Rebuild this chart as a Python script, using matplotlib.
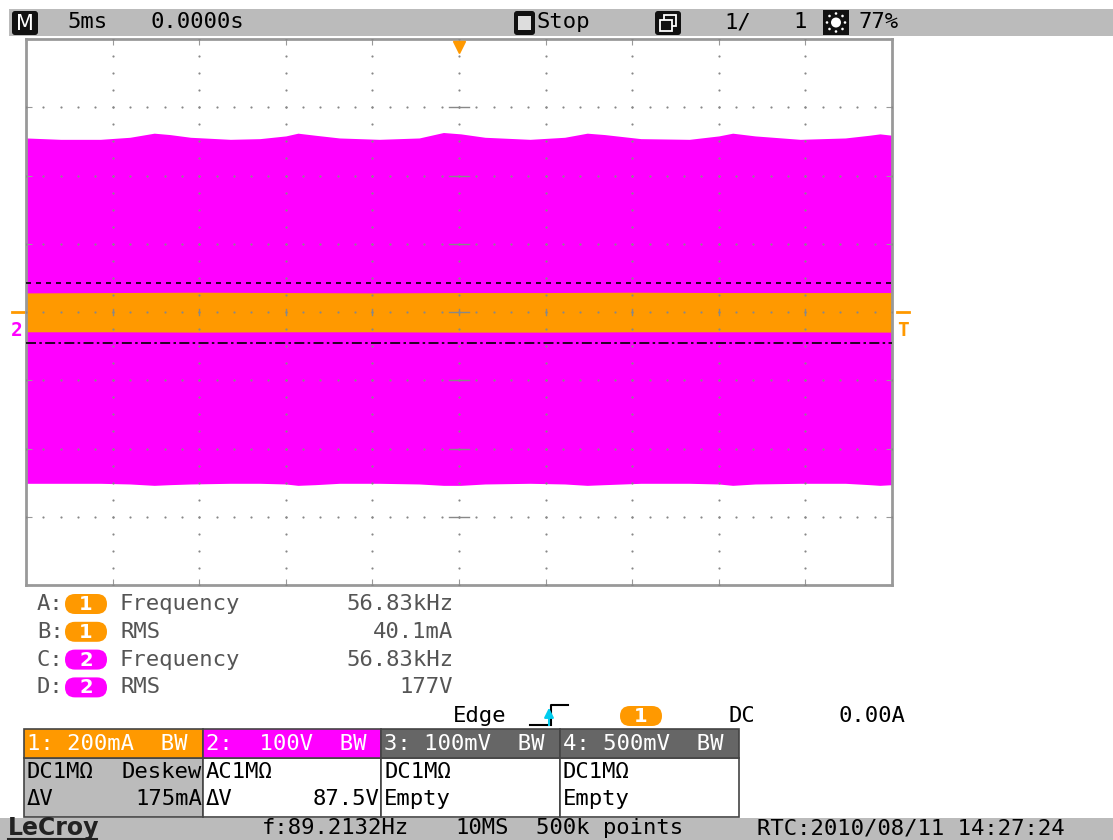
import matplotlib.pyplot as plt
from matplotlib.patches import Rectangle, FancyBboxPatch, Circle

# trace 2 (100 V/div): envelope of the carrier
t_env = [-25, -23.0, -20.7, -19.0, -17.6, -16.7, -15.5, -13.2, -11.5, -10.0, -9.3,
         -8.3, -6.9, -4.6, -2.3, -0.9, 0.1, 1.5, 4.1, 6.1, 7.4, 8.4, 10.5, 13.3,
         15.0, 15.8, 17.1, 19.7, 22.3, 23.7, 24.3, 25]
ch2_top = [255, 253, 253, 256, 262, 260, 256, 253, 254, 258, 262,
           259, 255, 253, 255, 263, 261, 256, 253, 256, 262, 260, 254, 253,
           258, 262, 258, 253, 255, 259, 261, 259]
ch2_bot = [-251, -251, -251, -252, -254, -253, -252, -251, -251, -252, -254,
           -253, -251, -251, -252, -254, -254, -252, -251, -252, -254, -253, -251, -251,
           -252, -254, -252, -251, -251, -253, -254, -253]

# trace 1 (200 mA/div)
t_ch1 = [-25, -20, -15, -10, -5, 0, 5, 10, 15, 20, 25]
ch1_top = [56, 57, 58, 57, 56, 57, 57, 58, 57, 57, 57]
ch1_bot = [-58, -58, -59, -58, -58, -59, -59, -58, -58, -58, -59]

cursors_mA = [85, -90]
scale_ch1 = 200   # mA/div
scale_ch2 = 100   # V/div

meas_tags = ["A:", "B:", "C:", "D:"]
meas_src = ["1", "1", "2", "2"]
meas_names = ["Frequency", "RMS", "Frequency", "RMS"]
meas_vals = ["56.83kHz", "40.1mA", "56.83kHz", "177V"]

ch_head = ["1: 200mA  BW", "2:  100V  BW", "3: 100mV  BW", "4: 500mV  BW"]
ch_row1 = ["DC1MΩ", "AC1MΩ", "DC1MΩ", "DC1MΩ"]
ch_row2 = ["ΔV", "ΔV", "Empty", "Empty"]
ch_row2_val = ["175mA", "87.5V", "", ""]

ORANGE = "#ff9900"
MAGENTA = "#ff00ff"
BAR = "#bbbbbb"
FONT = "DejaVu Sans Mono"
FS = 16

W, H = 1113, 840
fig = plt.figure(figsize=(W / 100, H / 100), dpi=100)
bg = fig.add_axes([0, 0, 1, 1])
bg.set_xlim(0, W)
bg.set_ylim(H, 0)
bg.axis("off")


def txt(x, y, s, color="black", ha="left", size=FS, **kw):
    bg.text(x, y, s, ha=ha, va="center", fontsize=size, family=FONT,
            color=color, **kw)


def pill(x, y, label, color):
    bg.add_patch(FancyBboxPatch((x, y), 42, 20,
                                boxstyle="round,pad=0,rounding_size=10",
                                fc=color, ec="none"))
    bg.text(x + 21, y + 10.5, label, ha="center", va="center", color="white",
            fontsize=14, fontweight="bold", family="DejaVu Sans")


# top status bar
bg.add_patch(Rectangle((9, 9), W - 9, 27, fc=BAR, ec="none"))
bg.add_patch(FancyBboxPatch((12, 11), 26, 24, boxstyle="round,pad=0,rounding_size=3",
                            fc="#111111", ec="none"))
bg.text(25, 23.5, "M", ha="center", va="center", color="white", fontsize=15,
        family="DejaVu Sans")
txt(67, 22, "5ms")
txt(151, 22, "0.0000s")
bg.add_patch(FancyBboxPatch((514, 11), 21, 24, boxstyle="round,pad=0,rounding_size=3",
                            fc="#111111", ec="none"))
bg.add_patch(Rectangle((518, 16), 13, 14, fc="#dddddd", ec="none"))
txt(536, 22, "Stop")
bg.add_patch(FancyBboxPatch((655, 11), 26, 24, boxstyle="round,pad=0,rounding_size=3",
                            fc="#111111", ec="none"))
bg.add_patch(Rectangle((664, 15), 12, 11, fc="none", ec="white", lw=1.3))
bg.add_patch(Rectangle((660, 20), 12, 11, fc="#111111", ec="white", lw=1.3))
txt(724, 22, "1/")
txt(793, 22, "1")
bg.add_patch(Rectangle((823, 10), 26, 25, fc="#111111", ec="none"))
bg.add_patch(Circle((836, 22.5), 5, fc="white", ec="none"))
for dx, dy in [(0, -9), (0, 9), (-9, 0), (9, 0), (-6.5, -6.5), (6.5, 6.5), (-6.5, 6.5), (6.5, -6.5)]:
    bg.add_patch(Circle((836 + dx, 22.5 + dy), 1.3, fc="white", ec="none"))
txt(858, 22, "77%")

# scope screen
L, R, T, B = 26, 892, 39, 585
ax = fig.add_axes([L / W, 1 - B / H, (R - L) / W, (B - T) / H])
ax.set_xlim(-25, 25)
ax.set_ylim(-4, 4)
ax.set_facecolor("white")
for s in ax.spines.values():
    s.set_color("#999999")
    s.set_linewidth(2)
ax.set_xticks([-25 + 5 * i for i in range(11)])
ax.set_yticks(range(-4, 5))
ax.tick_params(direction="in", length=4, color="#999999", labelleft=False,
               labelbottom=False, top=True, right=True)

ax.fill_between(t_env, [v / scale_ch2 for v in ch2_bot], [v / scale_ch2 for v in ch2_top],
                color=MAGENTA, lw=0, zorder=1)
ax.fill_between(t_ch1, [v / scale_ch1 for v in ch1_bot], [v / scale_ch1 for v in ch1_top],
                color=ORANGE, lw=0, zorder=2)
ax.axhline(cursors_mA[0] / scale_ch1, color="black", lw=1.2, ls=(0, (3, 3)), zorder=4)
ax.axhline(cursors_mA[1] / scale_ch1, color="black", lw=1.2, ls=(0, (6, 2, 1.5, 2)), zorder=4)

# graticule dots
gx, gy = [], []
for yl in range(-3, 4):
    for k in range(-25, 26):
        gx.append(k)
        gy.append(yl)
for xl in range(-4, 5):
    for k in range(-16, 17):
        gx.append(xl * 5)
        gy.append(k * 0.25)
ax.scatter(gx, gy, s=2.5, color="#888888", lw=0, zorder=3)
for xl in range(-4, 5):
    ax.plot([xl * 5, xl * 5], [-0.05, 0.05], color="#888888", lw=1, zorder=3)
for yl in range(-3, 4):
    ax.plot([-0.6, 0.6], [yl, yl], color="#888888", lw=1, zorder=3)
ax.plot([0], [3.89], marker="v", color=ORANGE, ms=9, clip_on=False, zorder=5)

# channel markers beside the screen
bg.plot([12, 24], [312, 312], color=ORANGE, lw=2)
bg.text(17, 331, "2", ha="center", va="center", color=MAGENTA, fontsize=14,
        fontweight="bold", family=FONT)
bg.plot([897, 909], [312, 312], color=ORANGE, lw=2)
bg.text(903, 330, "T", ha="center", va="center", color=ORANGE, fontsize=14,
        fontweight="bold", family=FONT)

# measurement table
for i in range(4):
    y = 604 + i * 27.8
    txt(37, y, meas_tags[i], color="#555555")
    pill(65, y - 10, meas_src[i], ORANGE if meas_src[i] == "1" else MAGENTA)
    txt(120, y, meas_names[i], color="#555555")
    txt(453, y, meas_vals[i], color="#555555", ha="right")

# trigger line
txt(453, 716, "Edge")
bg.plot([530, 547], [725, 725], color="black", lw=1.5)
bg.plot([551, 551, 568], [725, 705, 705], color="black", lw=1.5)
bg.annotate("", xy=(549, 705), xytext=(549, 728),
            arrowprops=dict(arrowstyle="-|>", color="#00ccee", lw=1.5, mutation_scale=14))
pill(620, 706, "1", ORANGE)
txt(728, 716, "DC")
txt(838, 716, "0.00A")

# channel boxes
xs = [24, 203, 381, 560, 739]
heads = [ORANGE, MAGENTA, "#666666", "#666666"]
for i in range(4):
    x0, x1 = xs[i], xs[i + 1]
    bg.add_patch(Rectangle((x0, 758), x1 - x0, 59,
                           fc=BAR if i == 0 else "white", ec="#444444", lw=1.2))
    bg.add_patch(Rectangle((x0, 729), x1 - x0, 29, fc=heads[i], ec="#444444", lw=1.2))
    txt(x0 + 3, 744, ch_head[i], color="white")
    txt(x0 + 3, 772, ch_row1[i])
    txt(x0 + 3, 799, ch_row2[i])
    if ch_row2_val[i]:
        txt(x1 - 1, 799, ch_row2_val[i], ha="right")
txt(202, 772, "Deskew", ha="right")

# bottom status bar
bg.add_patch(Rectangle((0, 818), W, 22, fc=BAR, ec="none"))
bg.text(8, 828, "LeCroy", ha="left", va="center", fontsize=17, family="DejaVu Sans",
        color="#222222", fontweight="bold")
bg.plot([8, 97], [839, 839], color="#222222", lw=1.5)
txt(262, 828, "f:89.2132Hz")
txt(455, 828, "10MS")
txt(536, 828, "500k points")
txt(757, 828, "RTC:2010/08/11 14:27:24")

fig.savefig("out.png", dpi=100)
